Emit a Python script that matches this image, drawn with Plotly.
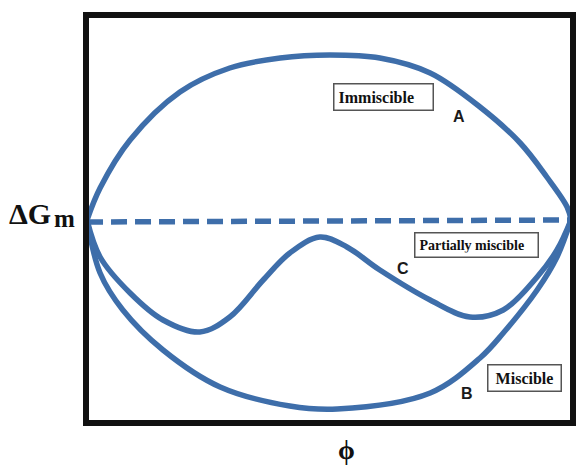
import plotly.graph_objects as go

# composition (volume fraction phi) and free energy of mixing (arbitrary units)
phi_A = [0.0, 0.027, 0.089, 0.192, 0.295, 0.399, 0.502, 0.605, 0.709, 0.812, 0.895, 0.950, 0.992, 1.0]
dG_A = [0.0, 0.16, 0.40, 0.64, 0.76, 0.81, 0.825, 0.81, 0.735, 0.565, 0.385, 0.215, 0.065, 0.0]

phi_B = [0.0, 0.027, 0.074, 0.157, 0.275, 0.419, 0.517, 0.709, 0.812, 0.860, 0.930, 0.971, 1.0]
dG_B = [0.0, -0.265, -0.45, -0.65, -0.835, -0.93, -0.945, -0.865, -0.69, -0.565, -0.35, -0.185, 0.0]

phi_C = [0.0, 0.027, 0.089, 0.157, 0.233, 0.295, 0.364, 0.419, 0.481, 0.537, 0.605, 0.709, 0.791, 0.860, 0.930, 0.971, 1.0]
dG_C = [0.0, -0.185, -0.365, -0.50, -0.56, -0.485, -0.30, -0.165, -0.085, -0.135, -0.25, -0.40, -0.485, -0.45, -0.285, -0.15, 0.0]

phi_ref = [0.0, 1.0]
dG_ref = [-0.01, 0.0]

BLUE = "#3e6eaa"

fig = go.Figure()
for xs, ys in [(phi_A, dG_A), (phi_B, dG_B), (phi_C, dG_C)]:
    fig.add_trace(go.Scatter(x=xs, y=ys, mode="lines",
                             line=dict(color=BLUE, width=5.5, shape="spline", smoothing=1.0),
                             hoverinfo="skip", showlegend=False))
fig.add_trace(go.Scatter(x=phi_ref, y=dG_ref, mode="lines",
                         line=dict(color=BLUE, width=5.5, dash="16px,8px"),
                         hoverinfo="skip", showlegend=False))

box_font = dict(family="Liberation Serif", color="#111111")
letter_font = dict(family="Liberation Sans", size=16, color="#1a1a1a")

fig.add_annotation(x=0.612, y=0.615, text="<b>Immiscible</b>", showarrow=False,
                   xanchor="center", yanchor="middle",
                   font=dict(size=16, **box_font), bordercolor="#555555", borderwidth=1.5,
                   borderpad=4, bgcolor="white", width=90, align="left")
fig.add_annotation(x=0.768, y=0.52, text="<b>A</b>", showarrow=False,
                   xanchor="center", yanchor="middle", font=letter_font)

fig.add_annotation(x=0.804, y=-0.125, text="<b>Partially miscible</b>", showarrow=False,
                   xanchor="center", yanchor="middle",
                   font=dict(size=14, **box_font), bordercolor="#555555", borderwidth=1.5,
                   borderpad=4, bgcolor="white", width=114, align="left")
fig.add_annotation(x=0.653, y=-0.24, text="<b>C</b>", showarrow=False,
                   xanchor="center", yanchor="middle", font=letter_font)

fig.add_annotation(x=0.904, y=-0.79, text="<b>Miscible</b>", showarrow=False,
                   xanchor="center", yanchor="middle",
                   font=dict(size=16, **box_font), bordercolor="#555555", borderwidth=1.5,
                   borderpad=4, bgcolor="white", width=64, align="center")
fig.add_annotation(x=0.785, y=-0.865, text="<b>B</b>", showarrow=False,
                   xanchor="center", yanchor="middle", font=letter_font)

# axis labels
fig.add_annotation(xref="paper", yref="paper", x=-0.114, y=0.514, text="<b>ΔG</b>",
                   xanchor="center", yanchor="middle",
                   showarrow=False, font=dict(family="Liberation Serif", size=30, color="#111111"))
fig.add_annotation(xref="paper", yref="paper", x=-0.045, y=0.502, text="<b>m</b>",
                   xanchor="center", yanchor="middle",
                   showarrow=False, font=dict(family="Liberation Serif", size=25, color="#111111"))
fig.add_annotation(xref="paper", yref="paper", x=0.534, y=-0.066, text="<b>ϕ</b>",
                   xanchor="center", yanchor="middle",
                   showarrow=False, font=dict(family="Liberation Serif", size=27, color="#111111"))

# frame
fig.add_shape(type="rect", xref="paper", yref="paper", x0=0, y0=0, x1=1, y1=1,
              line=dict(color="#111111", width=6), layer="above")

axis_style = dict(showgrid=False, zeroline=False, showticklabels=False, ticks="",
                  showline=False, fixedrange=True)
fig.update_xaxes(range=[-0.0021, 1.0041], **axis_style)
fig.update_yaxes(range=[-1.015, 1.025], **axis_style)

fig.update_layout(width=576, height=468, margin=dict(l=86, r=3, t=15, b=45),
                  paper_bgcolor="white", plot_bgcolor="white")

# remove the default page margin so the 576x468 figure fills the window exactly
fig.write_html("out.html", config={"displayModeBar": False},
               post_script="document.body.style.margin='0';document.body.style.overflow='hidden';")
